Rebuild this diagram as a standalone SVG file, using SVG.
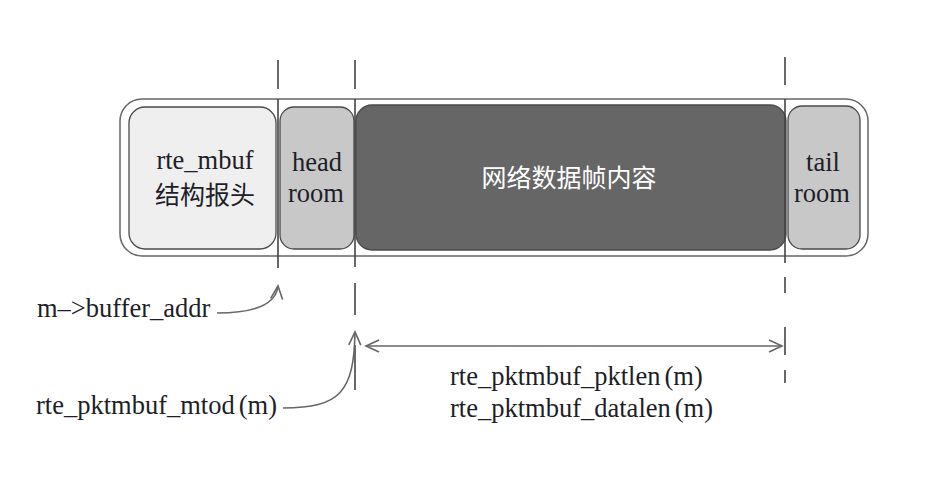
<svg xmlns="http://www.w3.org/2000/svg" width="928" height="486" viewBox="0 0 928 486">
<defs>
<style>
.t{font-family:"Liberation Serif","Noto Sans CJK SC",serif;font-size:26.5px;fill:#1e1e28}
.cj{font-family:"Noto Sans CJK SC",sans-serif;font-size:25px;fill:#1e1e28}
.w{font-family:"Noto Sans CJK SC",sans-serif;font-size:25px;fill:#ffffff}
.box{stroke:#4a4a4a;stroke-width:1.3}
.dl{stroke:#444;stroke-width:1.6;fill:none}
.ar{stroke:#666;stroke-width:1.6;fill:none}
</style>
<marker id="ah" viewBox="-16 -8 18 16" markerWidth="18" markerHeight="16" refX="0" refY="0" orient="auto-start-reverse" markerUnits="userSpaceOnUse">
<path d="M-13,-6 L0,0 L-13,6" fill="none" stroke="#666" stroke-width="1.6"/>
</marker>
</defs>
<rect width="928" height="486" fill="#ffffff"/>
<g id="frame">
<rect x="120" y="99" width="748" height="157" rx="22" fill="#ffffff" stroke="#666" stroke-width="1.5"/>
</g>
<g id="mbuf-header">
<rect class="box" x="129" y="107" width="147" height="142" rx="16" fill="#efefef"/>
<text class="t" x="205" y="169" text-anchor="middle">rte_mbuf</text>
<text class="cj" x="205" y="204" text-anchor="middle">结构报头</text>
</g>
<g id="headroom">
<rect class="box" x="280" y="107" width="74" height="142" rx="14" fill="#c8c8c8"/>
<text class="t" x="317" y="171" text-anchor="middle">head</text>
<text class="t" x="316" y="202" text-anchor="middle">room</text>
</g>
<g id="data">
<rect class="box" x="356" y="105" width="430" height="145" rx="16" fill="#666666"/>
<text class="w" x="569" y="187" text-anchor="middle">网络数据帧内容</text>
</g>
<g id="tailroom">
<rect class="box" x="788" y="106" width="72" height="143" rx="14" fill="#c8c8c8"/>
<text class="t" x="823" y="171" text-anchor="middle">tail</text>
<text class="t" x="822" y="202" text-anchor="middle">room</text>
</g>
<g id="connectors">
<path class="dl" d="M278,60 V89 M278,99 V268"/>
<path class="dl" d="M355,60 V89 M355,99 V267 M355,283 V315 M355,345 V390"/>
<path class="dl" d="M785,57 V85 M785,99 V263 M785,277 V293 M785,327 V355 M785,370 V383"/>
<path class="ar" d="M217,313 C255,313 276,305 278,286" marker-end="url(#ah)"/>
<path class="ar" d="M283,408 C340,408 354,392 355,332" marker-end="url(#ah)"/>
<path class="ar" d="M366,346 H782" marker-start="url(#ah)" marker-end="url(#ah)"/>
</g>
<g id="labels">
<text class="t" x="37" y="317">m–&gt;buffer_addr</text>
<text class="t" x="36" y="414">rte_pktmbuf_mtod<tspan dx="4">(m)</tspan></text>
<text class="t" x="450" y="385">rte_pktmbuf_pktlen<tspan dx="4">(m)</tspan></text>
<text class="t" x="450" y="417">rte_pktmbuf_datalen<tspan dx="4">(m)</tspan></text>
</g>
</svg>
